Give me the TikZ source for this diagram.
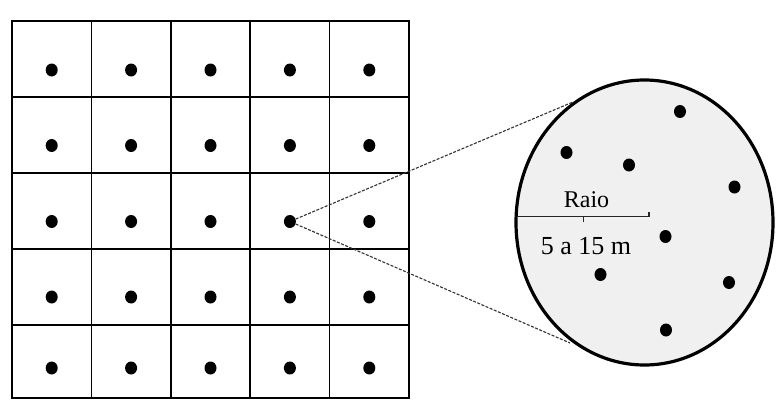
\documentclass[tikz,border=0pt]{standalone}
\usepackage{fontspec}
\setmainfont{Liberation Serif}
\usetikzlibrary{shapes.geometric}
\definecolor{plotfill}{HTML}{F0F0F0}
\tikzset{
  tree/.style={ellipse, fill=black, draw=none, inner sep=0pt,
    minimum width=12pt, minimum height=13pt},
  gridline/.style={line width=1.6pt, black},
  gridborder/.style={line width=2.6pt, black},
  zoomline/.style={line width=1.1pt, black!80, dash pattern=on 3pt off 1.5pt},
  plot/.style={ellipse, draw=black, line width=3.2pt, fill=plotfill,
    minimum width=257pt, minimum height=285pt, inner sep=0pt},
  radius/.style={line width=1.3pt, black!85},
}
\begin{document}
\begin{tikzpicture}[x=1pt, y=-1pt]
\useasboundingbox (0,0) rectangle (779,399);
\fill[white] (0,0) rectangle (779,399);

% sampling grid, 5 x 5 cells
\foreach \gx in {91.4,170.8,250.2,329.6}
  \draw[gridline] (\gx,21) -- (\gx,398);
\foreach \gy in {97,173,249,325}
  \draw[gridline] (12,\gy) -- (409,\gy);
\draw[gridborder] (12,21) rectangle (409,398);

% one sampling point per cell
\foreach \c/\gx in {1/51.7,2/131.1,3/210.5,4/289.9,5/369.3}
  \foreach \r/\gy in {1/70,2/145.5,3/221.5,4/297,5/368}
    \node[tree] (d\r\c) at (\gx,\gy) {};

% enlarged circular plot
\node[plot] (plot) at (644.5,222.5) {};
\foreach \i/\px/\py in {1/680/111.5,2/566.5/152.5,3/629/165,4/734.5/187,
                        5/665.5/236.5,6/600.5/274.5,7/729/282.5,8/666/330}
  \node[tree] (p\i) at (\px,\py) {};

% zoom connectors from the chosen point to the plot
\coordinate (zu) at (573,102);
\coordinate (zl) at (570,343);
\draw[zoomline] (d34) -- (zu);
\draw[zoomline] (d34) -- (zl);

% radius dimension
\coordinate (r0) at (517,216.7);
\coordinate (r1) at (649,216.7);
\coordinate (rm) at (583.5,216.7);
\draw[radius] (r0) -- (r1) -- ++(0,-5);
\draw[radius] (rm) -- ++(0,5.5);
\node[anchor=base, inner sep=0pt, font=\fontsize{24}{27}\selectfont] (lr) at (586.5,207) {Raio};
\node[anchor=base, inner sep=0pt, font=\fontsize{26}{29}\selectfont] (lv) at (586,254) {5 a 15 m};
\end{tikzpicture}
\end{document}
